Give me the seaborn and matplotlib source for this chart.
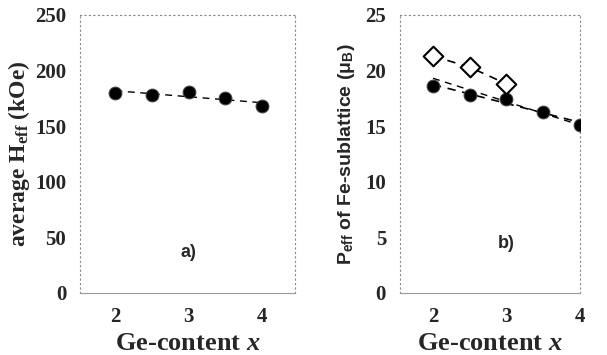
import numpy as np
import pandas as pd
import matplotlib
import matplotlib.pyplot as plt
import seaborn as sns

sns.set_style("white")
matplotlib.rcParams['font.family'] = ['Liberation Serif', 'DejaVu Serif']
matplotlib.rcParams['mathtext.fontset'] = 'custom'
matplotlib.rcParams['mathtext.rm'] = 'Liberation Serif:bold'
matplotlib.rcParams['mathtext.it'] = 'Liberation Serif:bold:italic'
matplotlib.rcParams['mathtext.sf'] = 'Liberation Sans:bold'

# panel a) average hyperfine field
ge_a = [2.0, 2.5, 3.0, 3.5, 4.0]
heff = [180, 178, 181, 175, 168]

# panel b) effective moment of Fe sublattice
ge_b = [2.0, 2.5, 3.0, 3.5, 4.0]
peff_filled = [18.6, 17.8, 17.4, 16.3, 15.1]
ge_open = [2.0, 2.5, 3.0]
peff_open = [21.3, 20.3, 18.8]
ge_calc = [2.0, 4.0]
peff_calc = [19.3, 15.1]

df_a = pd.DataFrame({'x': ge_a, 'y': heff})
df_b = pd.DataFrame({'x': ge_b, 'y': peff_filled})
df_o = pd.DataFrame({'x': ge_open, 'y': peff_open})
df_c = pd.DataFrame({'x': ge_calc, 'y': peff_calc})

fig = plt.figure(figsize=(6.07, 3.55), dpi=100)
ax1 = fig.add_axes([0.132, 0.175, 0.354, 0.783])
ax2 = fig.add_axes([0.659, 0.175, 0.296, 0.783])

dash = (0, (5, 4))

# a)
sns.regplot(data=df_a, x='x', y='y', ax=ax1, ci=None, scatter=False,
            line_kws={'color': 'black', 'linestyle': dash, 'linewidth': 1})
sns.scatterplot(data=df_a, x='x', y='y', ax=ax1, color='black', s=85, edgecolor='#444444', zorder=3)
ax1.set_xlim(1.52, 4.45)
ax1.set_ylim(0, 250)
ax1.set_yticks([0, 50, 100, 150, 200, 250])
ax1.set_ylabel('average H$_\\mathrm{eff}$ (kOe)', fontsize=17, fontweight='bold', labelpad=2)
ax1.text(3.0, 32, 'a)', fontsize=13, fontweight='bold', family='Liberation Sans', ha='center')

# b)
sns.regplot(data=df_b, x='x', y='y', ax=ax2, ci=None, scatter=False,
            line_kws={'color': 'black', 'linestyle': dash, 'linewidth': 1.2})
sns.lineplot(data=df_c, x='x', y='y', ax=ax2, color='black', linestyle=dash, linewidth=1)
sns.lineplot(data=df_o, x='x', y='y', ax=ax2, color='black', linestyle=dash, linewidth=1.2)
sns.scatterplot(data=df_b, x='x', y='y', ax=ax2, color='black', s=85, edgecolor='#444444', zorder=3)
sns.scatterplot(data=df_o, x='x', y='y', ax=ax2, marker='D', s=100, facecolor='white',
                edgecolor='black', linewidth=1.5, zorder=3)
ax2.set_xlim(1.55, 4.0)
ax2.set_ylim(0, 25)
ax2.set_yticks([0, 5, 10, 15, 20, 25])
ax2.set_ylabel('P$_\\mathsf{eff}$ of Fe-sublattice (μ$_\\mathsf{B}$)', fontsize=14, fontweight='bold',
               family='Liberation Sans', labelpad=6)
ax2.text(3.0, 4.0, 'b)', fontsize=13, fontweight='bold', family='Liberation Sans', ha='center')

for ax in (ax1, ax2):
    ax.set_xticks([2, 3, 4])
    ax.set_xlabel('Ge-content $\\mathit{x}$', fontsize=19, fontweight='bold', labelpad=4)
    ax.tick_params(axis='both', labelsize=15, direction='in', length=3, width=0.6, pad=10)
    for lab in ax.get_xticklabels() + ax.get_yticklabels():
        lab.set_fontweight('bold')
    for sp in ax.spines.values():
        sp.set_linestyle((0, (1, 3)))
        sp.set_color('#888888')
        sp.set_linewidth(0.8)
    ax.spines['bottom'].set_linestyle('-')
    ax.spines['bottom'].set_color('#999999')

fig.savefig('out.png', dpi=100)
